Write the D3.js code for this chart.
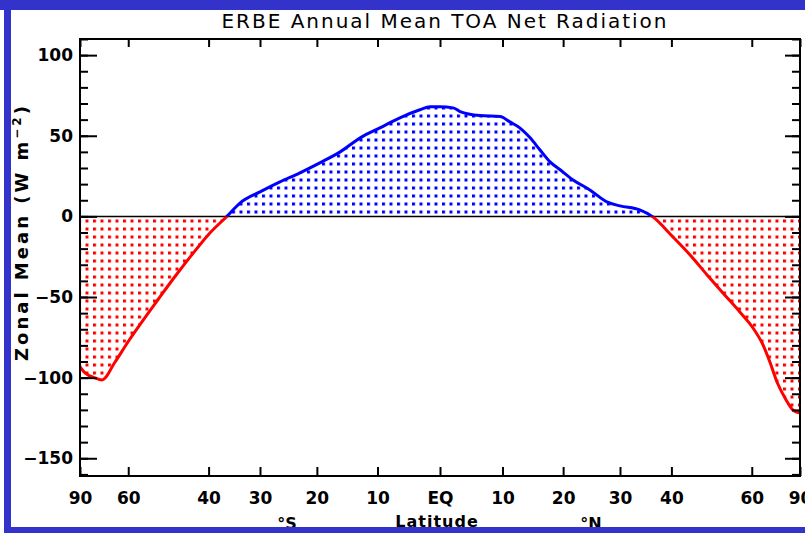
<!DOCTYPE html>
<html>
<head>
<meta charset="utf-8">
<script src="https://cdn.jsdelivr.net/npm/d3@7/dist/d3.min.js"></script>
<style>
  html, body { margin: 0; padding: 0; background: #fff; }
  svg { display: block; }
  text { font-family: "DejaVu Sans", "Liberation Sans", sans-serif; fill: #000; }
</style>
</head>
<body>
<svg id="chart" width="805" height="533"></svg>
<script>
// ERBE annual-mean zonal TOA net radiation (W m-2) by latitude (deg, S negative)
const latitude = [-90, -80.4, -73.4, -69.9, -64.5, -60.1, -55.9, -51.6, -47.4, -43.5, -40.1, -36.3,
  -33.7, -30, -26.4, -22.9, -19.5, -16.1, -12.8, -9.6, -6.4, -3.2, -1.6, 0, 2.1, 3.2, 6.4, 9.6,
  11.2, 12.8, 14.5, 16.1, 17.8, 19.5, 21.7, 24.6, 27.6, 30, 33.7, 36.1,
  40.3, 44.0, 47.9, 51.8, 56.4, 60.4, 63.8, 66.4, 69.4, 73.4, 78.7, 90];
const netRadiation = [-93.4, -97.1, -100.2, -101.4, -90.3, -77.9, -65.4, -51.7, -37.3, -23.6, -11.5, 0,
  8.4, 15.2, 21.4, 27.0, 33.2, 40.0, 48.7, 54.9, 61.1, 66.1, 68.0, 68.0, 67.3, 65.0, 62.5, 61.9,
  58.6, 54.9, 48.7, 41.3, 33.8, 28.9, 22.6, 16.4, 9.0, 6.5, 4.0, 0,
  -12.7, -23.9, -36.3, -47.5, -59.3, -69.2, -79.7, -90.3, -102.7, -112.6, -120.1, -122.0];

// Latitude axis (area weighted: ticks placed on sin(latitude))
const latTicks = [-90, -60, -40, -30, -20, -10, 0, 10, 20, 30, 40, 60, 90];
const latTickLabels = ["90", "60", "40", "30", "20", "10", "EQ", "10", "20", "30", "40", "60", "90"];
const yMajorTicks = [100, 50, 0, -50, -100, -150];
const yMinorTicks = d3.range(-160, 111, 10);

const titleText = "ERBE Annual Mean TOA Net Radiation";

const svg = d3.select("#chart");
const plotL = 80, plotR = 800, plotT = 39, plotB = 476;

const rad = Math.PI / 180;
const sinLat = d => Math.sin(d * rad);
const xs = d3.scaleLinear().domain([-1, 1]).range([plotL, plotR]);
const y = d3.scaleLinear().domain([-161, 110]).range([plotB, plotT]);

const data = latitude.map((d, i) => ({ lat: d, v: netRadiation[i] }));
const px = d => xs(sinLat(d.lat));

svg.append("rect").attr("width", 805).attr("height", 533).attr("fill", "#fff");

const defs = svg.append("defs");
function dots(id, color, ox, oy) {
  const p = defs.append("pattern").attr("id", id).attr("patternUnits", "userSpaceOnUse")
    .attr("x", ox).attr("y", oy).attr("width", 7.5).attr("height", 8);
  p.append("rect").attr("width", 3).attr("height", 3).attr("fill", color);
}
dots("dotsBlue", "#0000ff", 442, 210.5);
dots("dotsRed", "#ff0000", 85.5, 219.5);

defs.append("clipPath").attr("id", "above").append("rect")
  .attr("x", plotL).attr("y", plotT).attr("width", plotR - plotL).attr("height", y(0) - plotT);
defs.append("clipPath").attr("id", "below").append("rect")
  .attr("x", plotL).attr("y", y(0)).attr("width", plotR - plotL).attr("height", plotB - y(0));

const area = d3.area().x(px).y0(y(0)).y1(d => y(d.v)).curve(d3.curveMonotoneX);
const line = d3.line().x(px).y(d => y(d.v)).curve(d3.curveMonotoneX);

// dotted fills
svg.append("path").datum(data).attr("d", area).attr("fill", "url(#dotsBlue)").attr("clip-path", "url(#above)");
svg.append("path").datum(data).attr("d", area).attr("fill", "url(#dotsRed)").attr("clip-path", "url(#below)");

// zero line
svg.append("line").attr("x1", plotL).attr("x2", plotR).attr("y1", y(0)).attr("y2", y(0))
  .attr("stroke", "#000").attr("stroke-width", 1.5);

// curve: blue where positive, red where negative
svg.append("path").datum(data).attr("d", line).attr("fill", "none").attr("stroke", "#0000ff")
  .attr("stroke-width", 3).attr("stroke-linejoin", "round").attr("clip-path", "url(#above)");
svg.append("path").datum(data).attr("d", line).attr("fill", "none").attr("stroke", "#ff0000")
  .attr("stroke-width", 3).attr("stroke-linejoin", "round").attr("clip-path", "url(#below)");

// axes
const fontTick = g => g.selectAll("text").attr("font-size", 17).attr("font-weight", "bold")
  .attr("font-family", "DejaVu Sans, sans-serif").attr("fill", "#000");
const strokeAxis = g => {
  g.select(".domain").remove();
  g.selectAll(".tick line").attr("stroke", "#000").attr("stroke-width", 2);
};

svg.append("g").attr("transform", `translate(0,${plotB})`)
  .call(d3.axisBottom(xs).tickValues(latTicks.map(sinLat)).tickFormat((d, i) => latTickLabels[i])
    .tickSizeInner(-9).tickSizeOuter(0).tickPadding(16))
  .call(strokeAxis).call(fontTick);
svg.append("g").attr("transform", `translate(0,${plotT})`)
  .call(d3.axisTop(xs).tickValues(latTicks.map(sinLat)).tickFormat("").tickSizeInner(-8).tickSizeOuter(0))
  .call(strokeAxis);

svg.append("g").attr("transform", `translate(${plotL},0)`)
  .call(d3.axisLeft(y).tickValues(yMinorTicks).tickFormat("").tickSizeInner(-8).tickSizeOuter(0))
  .call(strokeAxis);
svg.append("g").attr("transform", `translate(${plotL},0)`)
  .call(d3.axisLeft(y).tickValues(yMajorTicks).tickFormat(d => d < 0 ? "\u2212" + Math.abs(d) : d)
    .tickSizeInner(-17).tickSizeOuter(0).tickPadding(7))
  .call(strokeAxis).call(fontTick);
svg.append("g").attr("transform", `translate(${plotR},0)`)
  .call(d3.axisRight(y).tickValues(yMinorTicks).tickFormat("").tickSizeInner(-8).tickSizeOuter(0))
  .call(strokeAxis);
svg.append("g").attr("transform", `translate(${plotR},0)`)
  .call(d3.axisRight(y).tickValues(yMajorTicks).tickFormat("").tickSizeInner(-15).tickSizeOuter(0))
  .call(strokeAxis);

// frame
svg.append("rect").attr("x", plotL).attr("y", plotT).attr("width", plotR - plotL).attr("height", plotB - plotT)
  .attr("fill", "none").attr("stroke", "#000").attr("stroke-width", 2);

// title
svg.append("text").attr("x", 444).attr("y", 28).attr("text-anchor", "middle")
  .attr("font-size", 20).attr("textLength", 445).attr("lengthAdjust", "spacing").text(titleText);

// y-axis title
const yt = svg.append("text").attr("transform", "translate(28,232) rotate(-90)")
  .attr("text-anchor", "middle").attr("font-size", 18).attr("font-weight", "bold")
  .attr("letter-spacing", 3);
yt.append("tspan").text("Zonal Mean (W m");
yt.append("tspan").attr("dy", -7).attr("font-size", 12).text("\u22122");
yt.append("tspan").attr("dy", 7).text(")");

// x-axis title and hemisphere marks
svg.append("text").attr("x", 437).attr("y", 527).attr("text-anchor", "middle")
  .attr("font-size", 16).attr("font-weight", "bold").attr("letter-spacing", 1).text("Latitude");
svg.append("text").attr("x", 287).attr("y", 529).attr("text-anchor", "middle")
  .attr("font-size", 16).attr("font-weight", "bold").text("\u00b0S");
svg.append("text").attr("x", 591).attr("y", 529).attr("text-anchor", "middle")
  .attr("font-size", 16).attr("font-weight", "bold").text("\u00b0N");

// page border
const border = "#3333cc";
svg.append("rect").attr("x", 0).attr("y", 0).attr("width", 805).attr("height", 10).attr("fill", border);
svg.append("rect").attr("x", 4).attr("y", 0).attr("width", 7).attr("height", 533).attr("fill", border);
svg.append("rect").attr("x", 4).attr("y", 527).attr("width", 801).attr("height", 6).attr("fill", border);
</script>
</body>
</html>
